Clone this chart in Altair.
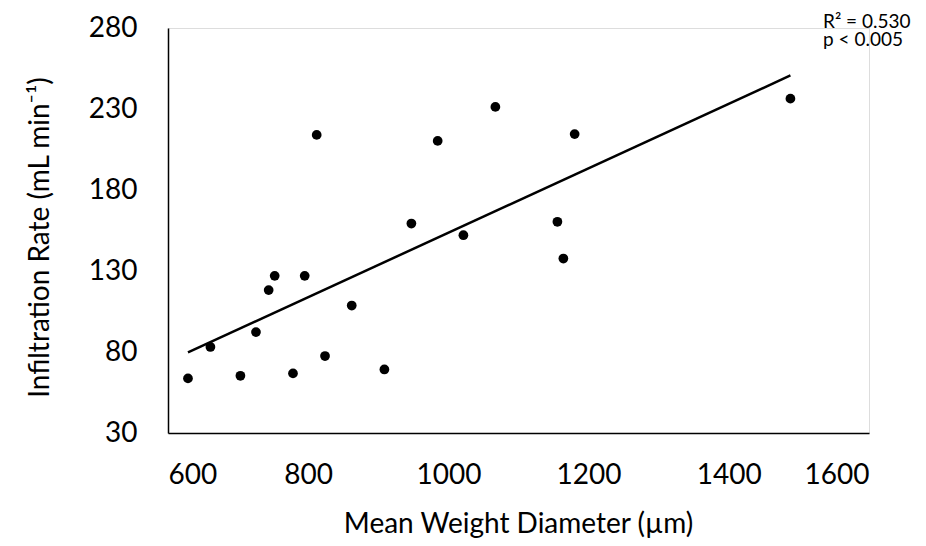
import altair as alt
import pandas as pd

# Mean Weight Diameter (µm)
mwd = [628.5, 660.5, 703.3, 725.5, 743.6, 752.2, 795.0, 778.3, 812.1, 824.0,
       862.1, 908.7, 947.2, 984.7, 1021.4, 1067.0, 1155.5, 1164.0, 1180.1, 1487.9]
# Infiltration Rate (mL min-1)
ir = [63.7, 83.1, 65.3, 92.3, 118.2, 127.0, 127.0, 66.8, 214.0, 77.5,
      108.7, 69.2, 159.3, 210.3, 152.1, 231.3, 160.4, 137.7, 214.5, 236.4]

x_ticks = [600, 800, 1000, 1200, 1400, 1600]
y_ticks = [30, 80, 130, 180, 230, 280]
annotations = ["R² = 0.530", "p < 0.005"]

df = pd.DataFrame({"mwd": mwd, "ir": ir})
FONT = "Lato"

x_enc = alt.X("mwd:Q", scale=alt.Scale(domain=[600, 1600], nice=False, zero=False),
              axis=alt.Axis(values=x_ticks, format="d", title="Mean Weight Diameter (µm)",
                            grid=False, ticks=False, tickSize=0, labelPadding=28,
                            domainColor="black", domainWidth=1.5,
                            labelColor="black", labelFontSize=28, labelFont=FONT,
                            titleColor="black", titleFontSize=28, titleFont=FONT,
                            titleFontWeight="normal", titleBaseline="alphabetic",
                            titleY=99, titleX=350))
y_enc = alt.Y("ir:Q", scale=alt.Scale(domain=[30, 280], nice=False, zero=False),
              axis=alt.Axis(values=y_ticks, format="d", title="Infiltration Rate (mL min⁻¹)",
                            grid=False, ticks=False, tickSize=0, labelPadding=31,
                            domainColor="black", domainWidth=1.5,
                            labelColor="black", labelFontSize=28, labelFont=FONT,
                            titleColor="black", titleFontSize=28, titleFont=FONT,
                            titleFontWeight="normal", titleBaseline="alphabetic",
                            titleAngle=-90, titleX=-120, titleY=209))

base = alt.Chart(df)
points = base.mark_circle(size=95, color="black", opacity=1).encode(x=x_enc, y=y_enc)
trend = base.transform_regression("mwd", "ir", method="linear").mark_line(
    color="black", strokeWidth=2.5).encode(x="mwd:Q", y="ir:Q")

ann = alt.Chart(pd.DataFrame({"t": ["\n".join(annotations)]})).mark_text(
    font=FONT, fontSize=19, color="black", align="left", baseline="alphabetic",
    lineBreak="\n", lineHeight=18
).encode(text="t:N", x=alt.value(655), y=alt.value(0))

chart = alt.layer(points, trend, ann).properties(
    width=701, height=405,
    autosize=alt.AutoSizeParams(type="none"),
    padding={"left": 160, "top": 20, "right": 49, "bottom": 105},
).configure_view(stroke=None).configure(background="white")

chart.save("out.html", embed_options={"renderer": "svg", "actions": False})
